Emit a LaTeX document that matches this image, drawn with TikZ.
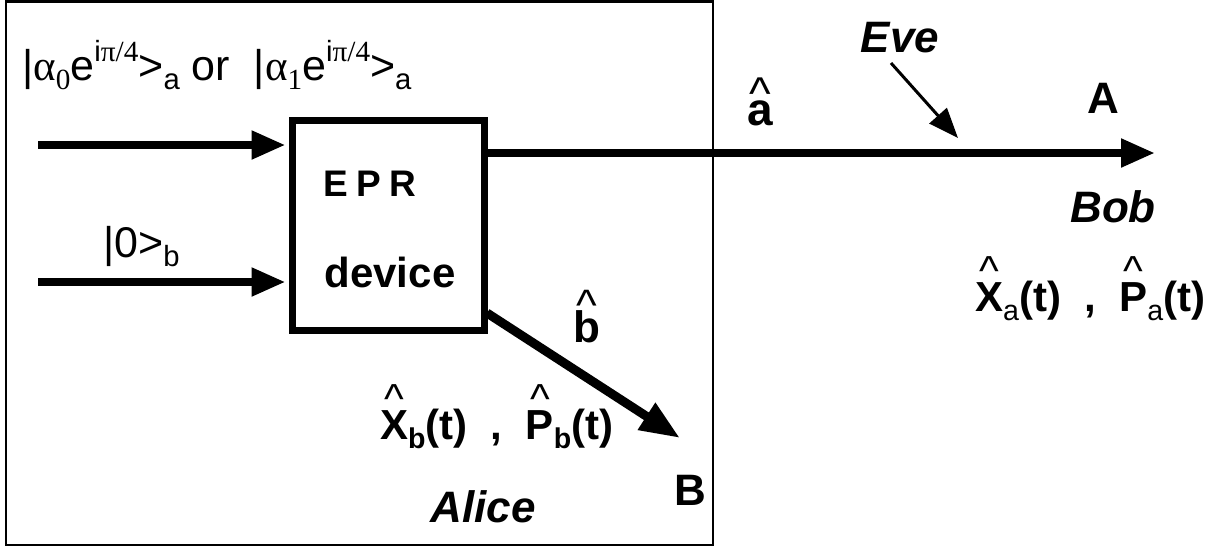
\documentclass[tikz,border=0pt]{standalone}
\usepackage{fontspec}
\setmainfont{Liberation Sans}
\newfontfamily\greekfont{Liberation Serif}
\usetikzlibrary{arrows.meta,positioning}
\newcommand{\hatted}[2]{\ooalign{#2\cr\hidewidth\raisebox{#1}{\mdseries\textasciicircum}\hidewidth\cr}}
\newcommand{\lowidx}[1]{\raisebox{-0.22em}{\scalebox{0.68}{#1}}}
\newcommand{\upidx}[1]{\raisebox{0.42em}{\scalebox{0.68}{#1}}}

\begin{document}
\begin{tikzpicture}[x=1pt,y=-1pt,
    device/.style={rectangle, draw, line width=7pt, minimum width=192pt,
                   minimum height=210pt, inner sep=0pt},
    beam/.style={-{Triangle[length=34pt,width=27pt]}, line width=8pt},
    tap/.style={-{Triangle[length=30pt,width=23pt]}, line width=3pt},
    state/.style={inner sep=0pt, font=\fontsize{43}{43}\selectfont},
    op/.style={inner sep=0pt, font=\fontsize{42}{42}\selectfont\bfseries},
    port/.style={inner sep=0pt, font=\fontsize{44}{44}\selectfont\bfseries},
    party/.style={inner sep=0pt, font=\fontsize{44}{44}\selectfont\bfseries\itshape},
]
\useasboundingbox (0,0) rectangle (1224,547);
\draw[line width=2.5pt] (6,1.5) rectangle (713,545);

\node[device] (epr) at (388,225) {};
\node[inner sep=0pt, font=\fontsize{37}{37}\selectfont\bfseries, anchor=base] (eprtxt) at (370,196)
    {E\hspace{8pt}P\hspace{8pt}R};
\node[inner sep=0pt, font=\fontsize{42}{42}\selectfont\bfseries, anchor=base] (devtxt) at (390,287) {device};

\node[state, anchor=base west] (inalpha) at (22,80)
    {|{\greekfont α\lowidx{0}}e\upidx{i{\greekfont π/4}}>\lowidx{a} or\ \ |{\greekfont α\lowidx{1}}e\upidx{i{\greekfont π/4}}>\lowidx{a}};
\node[state, anchor=base west] (invac) at (103,257) {|0>\lowidx{b}};

\coordinate (ina) at (38,145);
\coordinate (inb) at (38,282);
\draw[beam, shorten >=3pt] (ina) -- (epr.west |- ina);
\draw[beam, shorten >=3pt] (inb) -- (epr.west |- inb);

\coordinate (outa) at (487,153);
\coordinate (tipA) at (1155,153);
\draw[beam] (outa) -- (tipA);
\coordinate (outb) at (487,313);
\coordinate (tipB) at (680,438);
\draw[beam, line width=9pt, -{Triangle[length=40pt,width=30pt]}] (outb) -- (tipB);

\coordinate (evefrom) at (891,63);
\coordinate (evetap) at (958,138);
\draw[tap] (evefrom) -- (evetap);

\node[port, font=\fontsize{46}{46}\selectfont\bfseries, anchor=base] (ahat) at (760,125) {\hatted{0.33em}{a}};
\node[port, anchor=base] (bhat) at (587,342) {\hatted{0.5em}{b}};
\node[port, anchor=base] (Aport) at (1103,113) {A};
\node[port, anchor=base] (Bport) at (690,505) {B};

\node[party, anchor=base] (eve) at (900,52) {Eve};
\node[party, anchor=base] (bob) at (1113,222) {Bob};
\node[party, anchor=base] (alice) at (483,522) {Alice};

\node[op, anchor=base west] (obsa) at (975,311)
    {\hatted{0.6em}{X}\lowidx{\mdseries a}(t)\ \ ,\ \ \hatted{0.6em}{P}\lowidx{\mdseries a}(t)};
\node[op, anchor=base west] (obsb) at (380,439)
    {\hatted{0.6em}{X}\lowidx{b}(t)\ \ ,\ \ \hatted{0.6em}{P}\lowidx{b}(t)};
\end{tikzpicture}
\end{document}
